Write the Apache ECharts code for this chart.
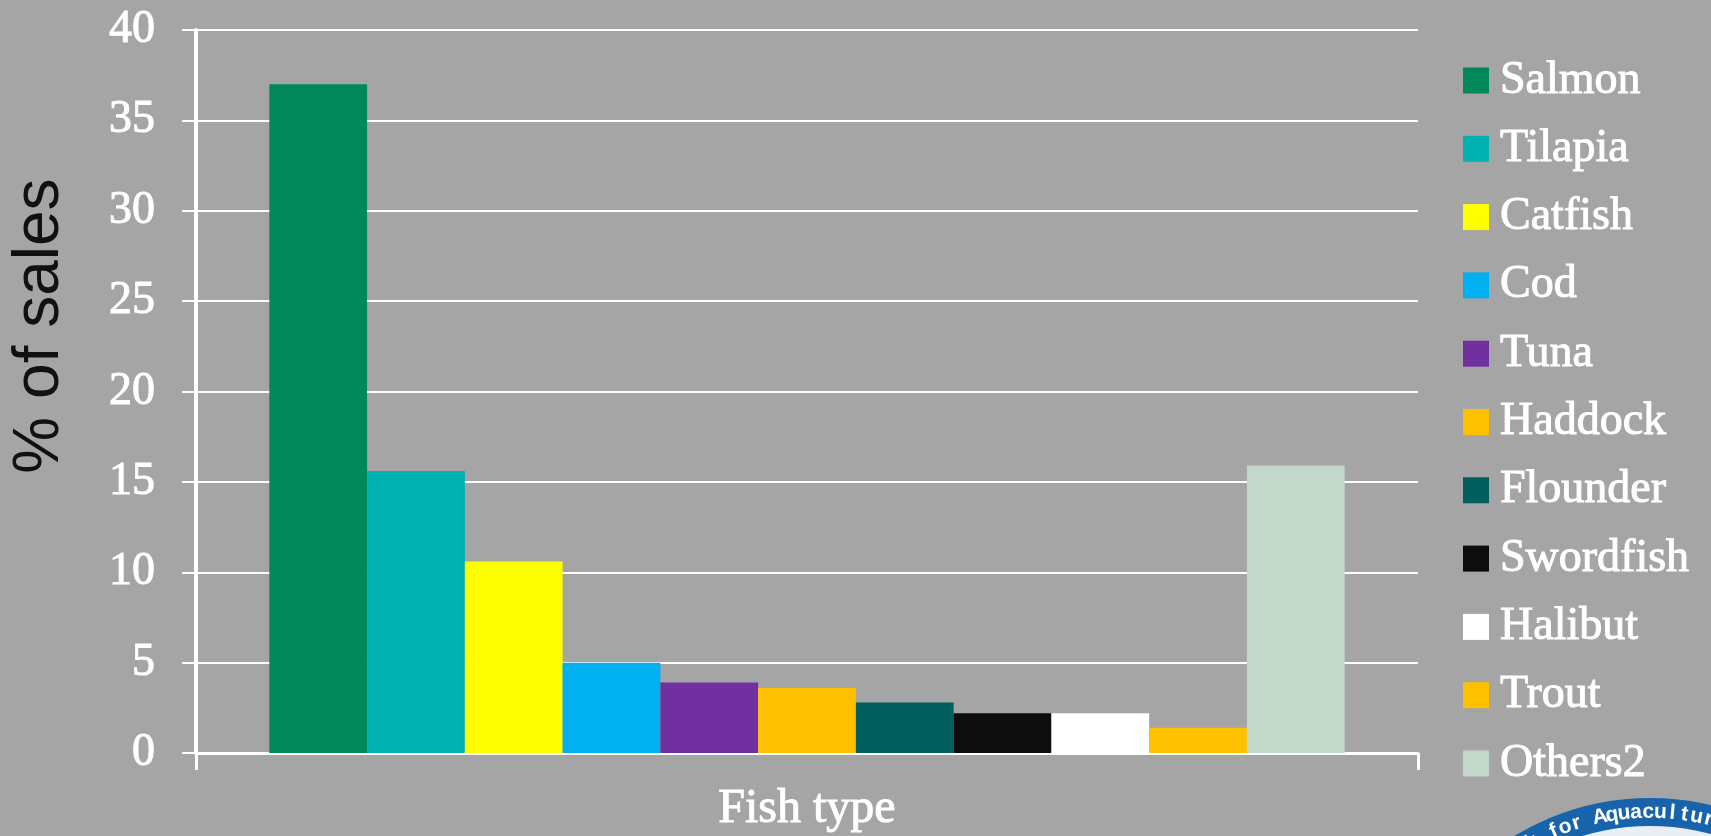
<!DOCTYPE html>
<html>
<head>
<meta charset="utf-8">
<title>Fish sales by type</title>
<script src="https://cdn.jsdelivr.net/npm/echarts@6/dist/echarts.min.js"></script>
<style>
  html, body { margin: 0; padding: 0; background: #A5A5A5; }
  #chart { width: 1711px; height: 836px; }
</style>
</head>
<body>
<div id="chart"></div>
<script>
// Share of seafood sales by fish type (%)
const category = [''];
const fishNames = ['Salmon', 'Tilapia', 'Catfish', 'Cod', 'Tuna', 'Haddock',
                   'Flounder', 'Swordfish', 'Halibut', 'Trout', 'Others2'];
const salesPct = [37.0, 15.6, 10.6, 5.0, 3.9, 3.6, 2.8, 2.2, 2.2, 1.4, 15.9];
const yTicks = { min: 0, max: 40, interval: 5 };

// one colour per fish series
const fishColors = ['#00875A', '#00B2B2', '#FFFF00', '#00B0F0', '#7030A0', '#FFC000',
                    '#005E5E', '#0D0D0D', '#FFFFFF', '#FFC000', '#C1D8CB'];

const serif = '"Liberation Serif", "Times New Roman", serif';
const white = '#FFFFFF';

const series = fishNames.map((name, i) => ({
  type: 'bar',
  name: name,
  data: [salesPct[i]],
  itemStyle: { color: fishColors[i] },
  barGap: 0,
  barCategoryGap: '12%',
  emphasis: { disabled: true }
}));

// badge in the lower right corner: blue ring with curved lettering
function badge() {
  const cx = 1650, cy = 1060, rOuter = 262, rInner = 234, rText = 248;
  const text = 'Network for Aquaculture';
  const step = 0.049;
  const angA = -0.203;   // angle of the "A" from the top of the ring
  const idxA = text.indexOf('A');
  const els = [
    { type: 'circle', shape: { cx: cx, cy: cy, r: rOuter }, style: { fill: '#1763AC' }, z: 10 },
    { type: 'circle', shape: { cx: cx, cy: cy, r: rInner }, style: { fill: '#E9EEF4' }, z: 11 }
  ];
  for (let i = 0; i < text.length; i++) {
    const a = angA + (i - idxA) * step;
    els.push({
      type: 'text',
      x: cx + rText * Math.sin(a),
      y: cy - rText * Math.cos(a),
      rotation: -a,
      z: 12,
      style: {
        text: text[i],
        fill: '#FFFFFF',
        font: 'bold 21px "Liberation Sans", Arial, sans-serif',
        align: 'center',
        verticalAlign: 'middle'
      }
    });
  }
  return els;
}

const chart = echarts.init(document.getElementById('chart'), null, { renderer: 'canvas' });

chart.setOption({
  backgroundColor: '#A5A5A5',
  animation: false,
  grid: { left: 196, right: 293, top: 30, bottom: 83, containLabel: false, outerBoundsMode: 'none' },
  legend: {
    orient: 'vertical',
    left: 1463,
    top: 57,
    padding: 0,
    icon: 'rect',
    itemWidth: 26,
    itemHeight: 26,
    itemGap: 21.3,
    selectedMode: false,
    data: fishNames,
    textStyle: {
      color: white,
      fontFamily: serif,
      fontSize: 46,
      lineHeight: 46,
      textBorderColor: white,
      textBorderWidth: 1,
      padding: [0, 0, 0, 6]
    }
  },
  xAxis: {
    type: 'category',
    data: category,
    boundaryGap: true,
    name: 'Fish type',
    nameLocation: 'middle',
    nameGap: 32,
    nameTextStyle: {
      color: white, fontFamily: serif, fontSize: 48,
      textBorderColor: white, textBorderWidth: 1
    },
    axisLine: { show: true, lineStyle: { color: white, width: 3 } },
    axisTick: { show: true, length: 17, lineStyle: { color: white, width: 3 } },
    axisLabel: { show: false },
    splitLine: { show: false }
  },
  yAxis: {
    type: 'value',
    min: yTicks.min,
    max: yTicks.max,
    interval: yTicks.interval,
    axisLine: { show: true, lineStyle: { color: white, width: 4 } },
    axisTick: { show: true, length: 14, inside: false, lineStyle: { color: white, width: 2 } },
    axisLabel: {
      color: white, fontFamily: serif, fontSize: 46, margin: 41,
      textBorderColor: white, textBorderWidth: 1
    },
    splitLine: { show: true, lineStyle: { color: white, width: 2 } }
  },
  series: series,
  graphic: [
    {
      type: 'text',
      x: 40,
      y: 326,
      rotation: Math.PI / 2,
      style: {
        text: '% of sales',
        fill: '#111111',
        font: '64px "Liberation Sans", Arial, sans-serif',
        align: 'center',
        verticalAlign: 'middle'
      }
    }
  ].concat(badge())
});
</script>
</body>
</html>
